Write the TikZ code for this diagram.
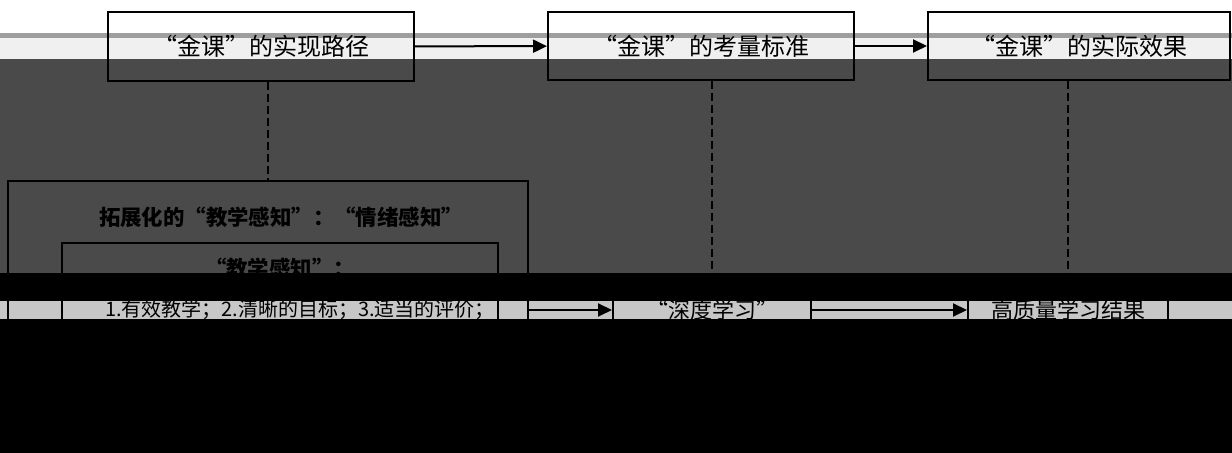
\documentclass[tikz,border=0pt]{standalone}
\usepackage{fontspec}
\setmainfont{Noto Sans CJK SC}
\usetikzlibrary{arrows.meta}

\begin{document}
\begin{tikzpicture}[x=0.5pt,y=-0.5pt]
    \tikzstyle{box}=[draw,line width=1pt,inner sep=0pt]
    \tikzstyle{link}=[line width=1pt,-{Triangle[length=7pt,width=6.5pt]}]
    \tikzstyle{guide}=[line width=1.2pt,dash pattern=on 4pt off 2pt]
    \useasboundingbox (0,0) rectangle (1232,453);
    % scanned page bands
    \fill[white] (0,0) rectangle (1232,33);
    \fill[black!38] (0,33) rectangle (1232,38);
    \fill[black!6] (0,38) rectangle (1232,59);
    \fill[black!71] (0,59) rectangle (1232,273);
    \fill[black] (0,273) rectangle (1232,453);
    \fill[black!22] (0,301) rectangle (1232,319);
    % top row
    \node[box,minimum width=153pt,minimum height=34.5pt] (g_1) at (261,46.5) {\fontsize{12}{14}\selectfont “金课”的实现路径};
    \node[box,minimum width=153pt,minimum height=34pt] (g_2) at (701,46) {\fontsize{12}{14}\selectfont “金课”的考量标准};
    \node[box,minimum width=151pt,minimum height=34pt] (g_3) at (1079,46) {\fontsize{12}{14}\selectfont “金课”的实际效果};
    \draw[link] (g_1) -- (g_2);
    \draw[link] (g_2) -- (g_3);
    % bottom row
    \node[box,minimum width=260pt,minimum height=129pt] (p_1) at (268,310) {};
    \node[box,minimum width=218pt,minimum height=84pt] (p_2) at (280,327) {};
    \node (t_1) at (281,217) {\fontsize{10.7}{13}\selectfont\bfseries 拓展化的“教学感知”：“情绪感知”};
    \node (t_2) at (280,268) {\fontsize{10.7}{13}\selectfont\bfseries “教学感知”：};
    \node (t_3) at (300,310) {\fontsize{10}{12}\selectfont 1.有效教学；2.清晰的目标；3.适当的评价；};
    \node[box,minimum width=99pt,minimum height=25pt] (d_1) at (712,310) {\fontsize{11}{13}\selectfont “深度学习”};
    \node[box,minimum width=100pt,minimum height=25pt] (d_2) at (1068,310) {\fontsize{11}{13}\selectfont 高质量学习结果};
    \draw[link] (p_1) -- (d_1);
    \draw[link] (d_1) -- (d_2);
    % dashed guides
    \draw[guide] (p_1.north |- g_1.south) -- (p_1.north);
    \draw[guide] (d_1.north |- g_2.south) -- (d_1.north);
    \draw[guide] (d_2.north |- g_3.south) -- (d_2.north);
\end{tikzpicture}
\end{document}
